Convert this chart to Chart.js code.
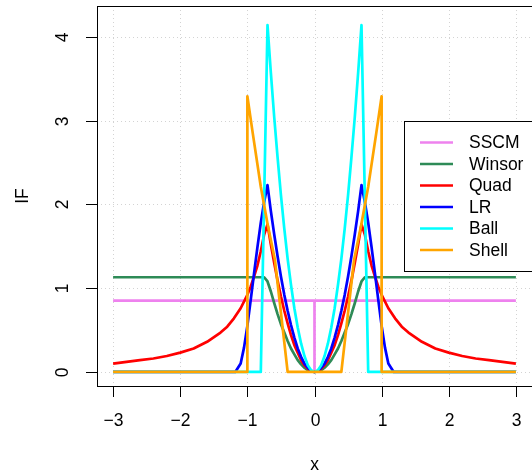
<!DOCTYPE html>
<html lang="en">
<head>
<meta charset="UTF-8">
<script src="https://cdn.jsdelivr.net/npm/chart.js"></script>
<title>IF</title>
<style>
    html, body { margin: 0; padding: 0; background: #fff; }
    #wrap { width: 532px; height: 472px; }
</style>
</head>
<body>
<div id="wrap"><canvas id="myChart" width="532" height="472"></canvas></div>
<script>
    // values
    const xTicks = [-3, -2, -1, 0, 1, 2, 3];
    const yTicks = [0, 1, 2, 3, 4];
    const names = ['SSCM', 'Winsor', 'Quad', 'LR', 'Ball', 'Shell'];
    const colors = ['#EE82EE', '#2E8B57', '#FF0000', '#0000FF', '#00FFFF', '#FFA500'];

    const sscmX = [-3, 0, 0, 0, 3];
    const sscmY = [0.85, 0.85, 0, 0.85, 0.85];

    const winsorX = [-3, -0.75, -0.7, -0.65, -0.6, -0.55, -0.5, -0.45, -0.4, -0.35, -0.3, -0.25, -0.2, -0.15, -0.1, -0.05, 0,
        0.05, 0.1, 0.15, 0.2, 0.25, 0.3, 0.35, 0.4, 0.45, 0.5, 0.55, 0.6, 0.65, 0.7, 0.75, 3];
    const winsorY = [1.13, 1.13, 1.08, 0.96, 0.82, 0.69, 0.57, 0.47, 0.37, 0.28, 0.21, 0.14, 0.09, 0.05, 0.02, 0.01, 0,
        0.01, 0.02, 0.05, 0.09, 0.14, 0.21, 0.28, 0.37, 0.47, 0.57, 0.69, 0.82, 0.96, 1.08, 1.13, 1.13];

    const quadX = [-3, -2.8, -2.6, -2.4, -2.2, -2, -1.8, -1.6, -1.4, -1.3, -1.2, -1.1, -1, -0.95, -0.9, -0.85, -0.8, -0.75, -0.7,
        -0.65, -0.6, -0.55, -0.5, -0.45, -0.4, -0.35, -0.3, -0.25, -0.2, -0.15, -0.1, -0.05, 0,
        0.05, 0.1, 0.15, 0.2, 0.25, 0.3, 0.35, 0.4, 0.45, 0.5, 0.55, 0.6, 0.65,
        0.7, 0.75, 0.8, 0.85, 0.9, 0.95, 1, 1.1, 1.2, 1.3, 1.4, 1.6, 1.8, 2, 2.2, 2.4, 2.6, 2.8, 3];
    const quadY = [0.10, 0.12, 0.14, 0.16, 0.19, 0.23, 0.28, 0.36, 0.47, 0.54, 0.64, 0.76, 0.92, 1.02, 1.14, 1.27, 1.44, 1.64, 1.76,
        1.52, 1.30, 1.09, 0.90, 0.73, 0.58, 0.44, 0.32, 0.23, 0.14, 0.08, 0.04, 0.01, 0,
        0.01, 0.04, 0.08, 0.14, 0.23, 0.32, 0.44, 0.58, 0.73, 0.90, 1.09, 1.30, 1.52,
        1.76, 1.64, 1.44, 1.27, 1.14, 1.02, 0.92, 0.76, 0.64, 0.54, 0.47, 0.36, 0.28, 0.23, 0.19, 0.16, 0.14, 0.12, 0.10];

    const lrX = [-3, -1.18, -1.1, -1.05, -1, -0.95, -0.9, -0.85, -0.8, -0.75, -0.7,
        -0.65, -0.6, -0.55, -0.5, -0.45, -0.4, -0.35, -0.3, -0.25, -0.2, -0.15, -0.1, -0.05, 0,
        0.05, 0.1, 0.15, 0.2, 0.25, 0.3, 0.35, 0.4, 0.45, 0.5, 0.55, 0.6, 0.65,
        0.7, 0.75, 0.8, 0.85, 0.9, 0.95, 1, 1.05, 1.1, 1.18, 3];
    const lrY = [0, 0, 0.10, 0.29, 0.55, 0.86, 1.18, 1.49, 1.78, 2.03, 2.23,
        1.92, 1.64, 1.38, 1.14, 0.92, 0.73, 0.56, 0.41, 0.28, 0.18, 0.10, 0.05, 0.01, 0,
        0.01, 0.05, 0.10, 0.18, 0.28, 0.41, 0.56, 0.73, 0.92, 1.14, 1.38, 1.64, 1.92,
        2.23, 2.03, 1.78, 1.49, 1.18, 0.86, 0.55, 0.29, 0.10, 0, 0];

    const ballX = [-3, -0.8, -0.7, -0.65, -0.6, -0.55, -0.5, -0.45, -0.4, -0.35, -0.3, -0.25, -0.2, -0.15, -0.1, -0.05, 0,
        0.05, 0.1, 0.15, 0.2, 0.25, 0.3, 0.35, 0.4, 0.45, 0.5, 0.55, 0.6, 0.65, 0.7, 0.8, 3];
    const ballY = [0, 0, 4.14, 3.57, 3.04, 2.56, 2.11, 1.71, 1.35, 1.04, 0.76, 0.53, 0.34, 0.19, 0.08, 0.02, 0,
        0.02, 0.08, 0.19, 0.34, 0.53, 0.76, 1.04, 1.35, 1.71, 2.11, 2.56, 3.04, 3.57, 4.14, 0, 0];

    const shellX = [-3, -1, -1, -0.92, -0.8, -0.7, -0.59, -0.4, 0.4, 0.59, 0.7, 0.8, 0.92, 1, 1, 3];
    const shellY = [0, 0, 3.29, 2.85, 2.21, 1.77, 1.34, 0, 0, 1.34, 1.77, 2.21, 2.85, 3.29, 0, 0];

    const seriesX = [sscmX, winsorX, quadX, lrX, ballX, shellX];
    const seriesY = [sscmY, winsorY, quadY, lrY, ballY, shellY];

    const FONT = '17.5px "Liberation Sans", Arial, Helvetica, sans-serif';

    function minusLabel(v) {
        return v < 0 ? '\u2212' + Math.abs(v) : String(v);
    }

    const rAxes = {
        id: 'rAxes',
        beforeDatasetsDraw(chart) {
            const { ctx, chartArea: a, scales: { x, y } } = chart;
            ctx.save();
            ctx.strokeStyle = '#D3D3D3';
            ctx.lineWidth = 1;
            ctx.setLineDash([1, 3]);
            xTicks.forEach(t => {
                const px = Math.round(x.getPixelForValue(t)) + 0.5;
                ctx.beginPath(); ctx.moveTo(px, a.top); ctx.lineTo(px, a.bottom); ctx.stroke();
            });
            yTicks.forEach(t => {
                const py = Math.round(y.getPixelForValue(t)) + 0.5;
                ctx.beginPath(); ctx.moveTo(a.left, py); ctx.lineTo(a.right, py); ctx.stroke();
            });
            ctx.restore();
        },
        afterDraw(chart) {
            const { ctx, chartArea: a, scales: { x, y } } = chart;
            ctx.save();
            ctx.strokeStyle = '#000';
            ctx.fillStyle = '#000';
            ctx.lineWidth = 1;
            ctx.setLineDash([]);
            // box
            ctx.strokeRect(a.left + 0.5, a.top + 0.5, a.right - a.left + 2, a.bottom - a.top);
            ctx.font = FONT;
            // x axis
            ctx.textAlign = 'center';
            ctx.textBaseline = 'middle';
            xTicks.forEach(t => {
                const px = Math.round(x.getPixelForValue(t)) + 0.5;
                ctx.beginPath(); ctx.moveTo(px, a.bottom); ctx.lineTo(px, a.bottom + 11); ctx.stroke();
                ctx.fillText(minusLabel(t), px, a.bottom + 35);
            });
            // y axis
            yTicks.forEach(t => {
                const py = Math.round(y.getPixelForValue(t)) + 0.5;
                ctx.beginPath(); ctx.moveTo(a.left, py); ctx.lineTo(a.left - 11, py); ctx.stroke();
                ctx.save();
                ctx.translate(a.left - 34, py);
                ctx.rotate(-Math.PI / 2);
                ctx.fillText(minusLabel(t), 0, 0);
                ctx.restore();
            });
            // titles
            ctx.fillText('x', (a.left + a.right) / 2, a.bottom + 79);
            ctx.save();
            ctx.translate(23.5, (a.top + a.bottom) / 2);
            ctx.rotate(-Math.PI / 2);
            ctx.fillText('IF', 0, 0);
            ctx.restore();

            // legend
            const lx = 404.5, ly = 121.5, lh = 150;
            ctx.fillStyle = '#fff';
            ctx.fillRect(lx, ly, a.right - lx + 5, lh);
            ctx.strokeRect(lx, ly, a.right - lx + 5, lh);
            ctx.textAlign = 'left';
            names.forEach((n, i) => {
                const ry = 142.5 + i * 21.5;
                ctx.strokeStyle = colors[i];
                ctx.lineWidth = 2.7;
                ctx.beginPath(); ctx.moveTo(420, ry); ctx.lineTo(453, ry); ctx.stroke();
                ctx.fillStyle = '#000';
                ctx.fillText(n, 469, ry + 1);
            });
            ctx.restore();
        }
    };

    // R draws in sequence, so later series sit on top
    const datasets = names.map((n, i) => ({
        label: n,
        data: seriesX[i].map((v, j) => ({ x: v, y: seriesY[i][j] })),
        borderColor: colors[i],
        borderWidth: 2.7,
        pointRadius: 0,
        fill: false,
        tension: 0,
        order: names.length - 1 - i,
        borderJoinStyle: 'round'
    }));

    const ctx = document.getElementById('myChart').getContext('2d');
    new Chart(ctx, {
        type: 'line',
        data: { datasets: datasets },
        plugins: [rAxes],
        options: {
            responsive: false,
            animation: false,
            layout: { padding: { left: 97, top: 6, right: 0, bottom: 86 } },
            plugins: { legend: { display: false }, tooltip: { enabled: false } },
            scales: {
                x: { type: 'linear', min: -3.24, max: 3.24, display: false },
                y: { type: 'linear', min: -0.168, max: 4.368, display: false }
            }
        }
    });
</script>
</body>
</html>
